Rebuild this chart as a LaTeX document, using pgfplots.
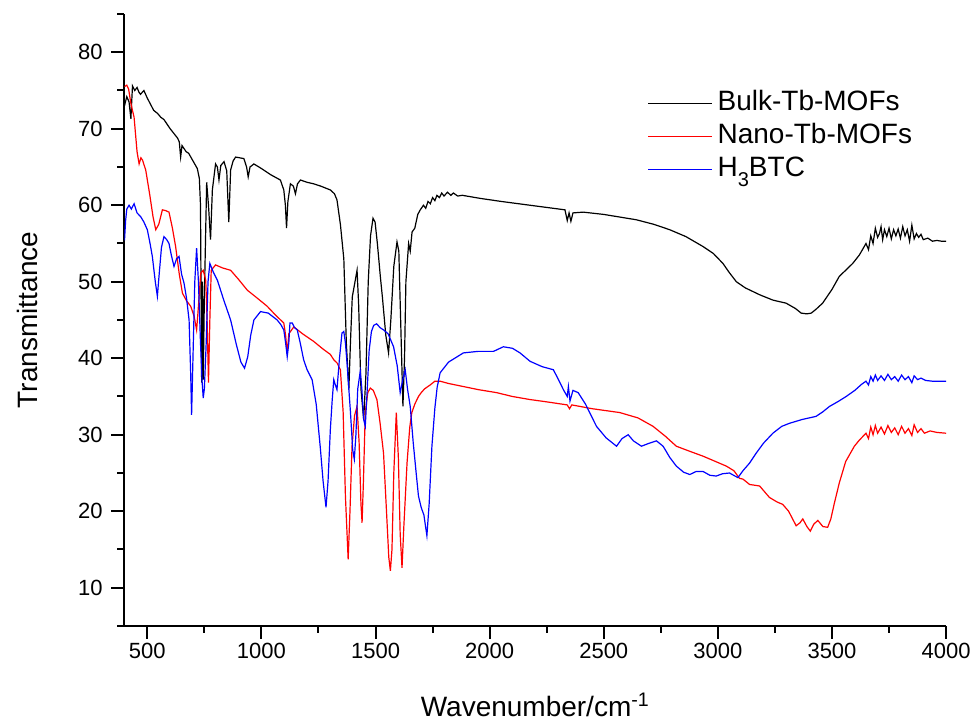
\documentclass[border=0pt]{standalone}
\usepackage{fontspec}
\setmainfont{Liberation Sans}
\usepackage{pgfplots}
\pgfplotsset{compat=1.18}
\begin{document}
\begin{tikzpicture}
\begin{axis}[
  scale only axis, width=410.8pt, height=306pt,
  xmin=400, xmax=4000, ymin=5, ymax=85,
  axis x line*=bottom, axis y line*=left,
  xtick={500,1000,...,4000}, minor xtick={750,1250,...,3750},
  ytick={10,20,...,80}, minor ytick={5,15,...,85},
  tick align=outside, major tick length=6.5pt, minor tick length=3.5pt,
  every tick/.style={line width=1pt, black},
  axis line style={line width=1pt},
  /pgf/number format/assume math mode=true,
  /pgf/number format/1000 sep={},
  scaled ticks=false,
  tick label style={font=\fontsize{11}{13}\selectfont},
  xticklabel style={anchor=base, inner sep=0pt, yshift=-10pt},
  yticklabel style={anchor=east, inner sep=0pt, xshift=-4.25pt},
  xlabel={Wavenumber/cm\textsuperscript{-1}},
  ylabel={Transmittance},
  label style={font=\fontsize{14}{16}\selectfont},
  xlabel style={at={(axis description cs:0.5,0)}, anchor=center, yshift=-39.5pt},
  ylabel style={at={(axis description cs:0,0.5)}, anchor=center, rotate=0, yshift=48.75pt},
  legend style={draw=none, fill=none, inner sep=0pt,
    at={(axis description cs:0.636,0.879)}, anchor=north west,
    font=\fontsize{14}{16}\selectfont, row sep=1.5pt, column sep=1.5pt,
    nodes={text height=10pt, text depth=3pt, inner sep=1pt}},
  legend cell align=left,
  legend image code/.code={\draw[#1, line width=0.6pt] (0pt,0pt) -- (32pt,0pt);},
]
\addplot[black, line width=0.6pt] coordinates {
(400,73.0)(410,74.2)(420,73.5)(428,71.3)(435,75.6)(445,75.0)(455,75.4)(463,74.8)(470,74.5)(485,75.0)
(500,74.0)(528,72.4)(545,72.0)(559,71.5)(573,71.2)(600,70.0)(632,68.8)(640,68.3)(646,66.3)(652,67.8)
(670,67.0)(681,66.8)(700,65.8)(719,64.8)(728,63.5)(733,60)(738,36.8)(742,50)(745,37.2)(750,48)
(760,63.0)(768,60)(777,55.5)(785,62)(799,65.4)(807,65.0)(814,63.3)(822,65.2)(836,65.7)(848,64.5)
(857,57.8)(862,62)(865,64.6)(876,65.8)(887,66.3)(905,66.2)(923,66.1)(935,65.0)(942,63.7)(950,65.0)
(967,65.4)(1000,64.8)(1040,64.0)(1083,63.3)(1098,62.0)(1105,60)(1110,57.0)(1116,60.5)(1127,62.8)(1140,62.5)
(1149,61.5)(1158,62.8)(1171,63.3)(1200,63.0)(1229,62.8)(1260,62.5)(1302,62.0)(1320,61.5)(1331,60.7)(1346,57.5)
(1361,53)(1372,42)(1383,35.9)(1390,42)(1398,48)(1410,50)(1419,51.5)(1426,47)(1436,36)(1448,32)
(1458,38)(1468,50)(1478,56)(1489,58.3)(1498,57.8)(1508,55)(1521,50.7)(1530,48)(1545,43)(1557,40.7)
(1567,45)(1580,52)(1594,55.2)(1602,54)(1610,45)(1620,33.7)(1627,40)(1633,50)(1645,55)(1652,54)
(1660,56.5)(1672,57)(1685,58.8)(1696,59.4)(1710,60)(1720,59.6)(1730,60.5)(1740,60.2)(1750,61)(1760,60.6)
(1769,61.3)(1780,61.0)(1790,61.6)(1800,61.2)(1815,61.7)(1830,61.3)(1841,61.6)(1860,61.2)(1880,61.3)(1958,60.9)
(2050,60.5)(2177,60.0)(2279,59.6)(2330,59.4)(2340,58.0)(2348,59.0)(2356,57.9)(2365,59.0)
(2410,59.1)(2500,58.8)(2643,58.1)(2720,57.5)(2789,56.8)(2860,55.9)(2935,54.6)(2980,53.7)(3022,52.4)(3050,51.2)
(3081,50.0)(3120,49.2)(3183,48.3)(3241,47.6)(3299,47.2)(3340,46.5)(3365,45.9)(3390,45.8)(3409,45.9)(3430,46.4)
(3459,47.2)(3500,49.0)(3532,50.7)(3560,51.5)(3591,52.4)(3620,53.5)(3649,55.0)(3660,54.2)(3670,56.0)(3680,55.0)
(3690,57.0)(3700,55.8)(3708,56.3)(3715,57.2)(3722,55.5)(3730,56.8)(3740,55.9)(3750,57.0)(3760,55.6)(3770,56.8)
(3780,56.0)(3790,56.9)(3800,55.7)(3810,57.2)(3820,56.0)(3830,56.8)(3840,55.3)(3850,57.4)(3860,55.6)(3870,56.3)
(3880,55.8)(3890,56.2)(3900,55.5)(3920,55.7)(3940,55.3)(3960,55.4)(3980,55.3)(4000,55.3)
};
\addlegendentry{Bulk-Tb-MOFs}
\addplot[red, line width=0.6pt] coordinates {
(400,75.5)(410,75.7)(418,75.2)(428,73.3)(442,71.5)(455,67)(464,65.4)(472,66.2)(479,65.9)(493,64.6)
(510,61.5)(525,58.5)(537,56.8)(550,57.5)(566,59.4)(580,59.3)(595,59.1)(610,57)(624,54.6)(640,51)
(654,48.5)(672,47.5)(690,46.8)(705,45.5)(716,43.7)(722,46)(734,51.1)(745,51.5)(756,50.2)(762,45)
(768,36.8)(774,45)(780,51.5)(799,52.2)(830,51.8)(865,51.5)(900,50.3)(938,48.9)(980,47.9)(1025,46.8)
(1060,45.7)(1098,44.6)(1106,43)(1113,40.6)(1120,43.2)(1142,44.1)(1180,43.2)(1229,42.2)(1270,41.2)(1302,40.5)
(1317,39.8)(1331,39.4)(1346,38.5)(1358,33)(1368,22)(1380,13.7)(1388,20)(1397,28.5)(1408,32.5)(1419,33.7)
(1428,29)(1436,21)(1441,18.5)(1447,24)(1455,32.9)(1466,35.5)(1477,36.1)(1490,35.8)(1506,34.6)(1520,31.5)
(1535,27.6)(1548,20)(1558,14)(1565,12.2)(1572,15)(1580,25)(1591,32.9)(1600,27)(1608,17)(1616,12.6)
(1624,18)(1638,26.3)(1650,31)(1659,32.9)(1672,34)(1688,35)(1700,35.5)(1715,36)(1739,36.5)(1760,37)
(1783,37)(1820,36.7)(1885,36.3)(1950,35.9)(2031,35.5)(2100,35)(2177,34.6)(2250,34.3)(2340,33.9)(2350,33.4)
(2360,33.9)(2450,33.4)(2570,32.9)(2650,32.2)(2716,31.1)(2770,29.8)(2818,28.5)(2880,27.8)(2935,27.2)(2990,26.5)
(3037,25.9)(3070,25.3)(3095,24.3)(3110,24.2)(3139,23.5)(3183,23.3)(3226,21.8)(3260,21.2)(3284,20.9)(3310,20.0)
(3343,18.1)(3360,18.5)(3372,19.0)(3390,18.0)(3405,17.4)(3420,18.3)(3438,18.8)(3460,18.0)(3481,17.9)(3495,19)
(3510,21)(3532,23.7)(3560,26.5)(3598,28.5)(3620,29.3)(3649,30.2)(3660,29.5)(3670,31)(3680,30.0)(3690,31.2)
(3700,30.2)(3715,31.0)(3730,30.1)(3745,31.2)(3760,30.3)(3775,30.9)(3790,30.0)(3805,31.1)(3820,30.2)(3835,30.8)
(3850,29.9)(3860,31.3)(3875,30.3)(3890,30.8)(3905,30.2)(3930,30.5)(3960,30.3)(4000,30.2)
};
\addlegendentry{Nano-Tb-MOFs}
\addplot[blue, line width=0.6pt] coordinates {
(400,55.4)(405,58)(410,59.5)(420,60.0)(430,59.5)(442,60.2)(455,59.0)(471,58.5)(485,57.8)(500,56.8)
(512,55)(522,53.3)(535,50)(544,48.1)(552,51)(562,54.5)(573,55.9)(585,55.5)(595,55.0)(605,53.5)
(617,52.0)(628,53.0)(639,53.3)(650,51)(661,49.8)(672,47.8)(683,45.0)(690,38)(694,32.6)(700,40)
(708,50)(716,54.4)(724,50)(733,42)(740,37)(745,34.8)(750,36)(758,42)(766,50)(774,52.4)
(790,51.2)(807,50.2)(835,47.6)(865,45.0)(890,41.8)(910,39.5)(926,38.7)(940,40.2)(953,43)(967,45.0)
(996,46.1)(1030,45.9)(1069,45.0)(1085,44.4)(1098,43.7)(1106,42)(1113,40.2)(1120,42)(1125,44.6)(1135,44.6)
(1145,44)(1157,43.7)(1170,42)(1185,39.8)(1200,38.5)(1222,37.2)(1240,34)(1258,28.3)(1270,24)(1283,20.5)
(1292,24)(1302,30.7)(1310,34.5)(1317,37.2)(1324,36.5)(1331,35.9)(1342,40)(1353,43.3)(1361,43.5)(1368,42)
(1375,39.4)(1390,33)(1400,28)(1407,26.8)(1414,30)(1422,36)(1433,38.3)(1440,36)(1448,32)(1455,31.1)
(1462,35)(1472,41)(1482,43.5)(1492,44.3)(1505,44.5)(1520,44.0)(1535,43.7)(1555,43.2)(1579,41.5)(1595,39)
(1608,35.5)(1618,37)(1630,38.5)(1640,36)(1652,33.7)(1665,29)(1678,25)(1688,22.0)(1700,20.5)(1712,19.5)
(1725,16.8)(1735,21)(1747,28.5)(1760,33.5)(1770,36.2)(1783,38.1)(1820,39.5)(1885,40.7)(1950,40.9)(2017,40.9)
(2060,41.5)(2100,41.3)(2133,40.7)(2177,39.6)(2230,38.9)(2279,38.5)(2300,37.3)(2323,35.9)(2340,35.0)(2345,36.3)
(2352,34.4)(2365,35.8)(2388,35.5)(2420,34)(2468,31.1)(2510,29.6)(2556,28.5)(2580,29.5)(2607,30.0)(2630,29.2)
(2665,28.5)(2700,28.9)(2731,29.2)(2760,28.5)(2790,27)(2818,25.9)(2850,25.1)(2877,24.8)(2905,25.2)(2935,25.2)
(2965,24.7)(2993,24.6)(3020,24.9)(3051,25.0)(3075,24.6)(3088,24.4)(3110,25.3)(3139,26.3)(3168,27.6)(3200,28.9)
(3241,30.2)(3280,31.1)(3314,31.5)(3370,32.0)(3430,32.4)(3460,33.0)(3489,33.7)(3530,34.4)(3562,35.0)(3600,35.8)
(3630,36.6)(3649,37.0)(3660,36.5)(3670,37.6)(3680,37.0)(3690,37.8)(3700,37.1)(3715,37.7)(3730,37.1)(3745,37.9)
(3760,37.2)(3775,37.6)(3790,37.0)(3805,37.8)(3820,37.2)(3835,37.6)(3850,36.8)(3860,37.7)(3875,37.2)(3890,37.4)
(3910,37.1)(3940,37.0)(3970,37.0)(4000,37.0)
};
\addlegendentry{H\raisebox{-5pt}{\fontsize{10}{10}\selectfont 3}BTC}
\end{axis}
\pgfresetboundingbox
\path[use as bounding box] (-62.25pt,-50pt) rectangle (427.25pt,313pt);
\end{tikzpicture}
\end{document}
